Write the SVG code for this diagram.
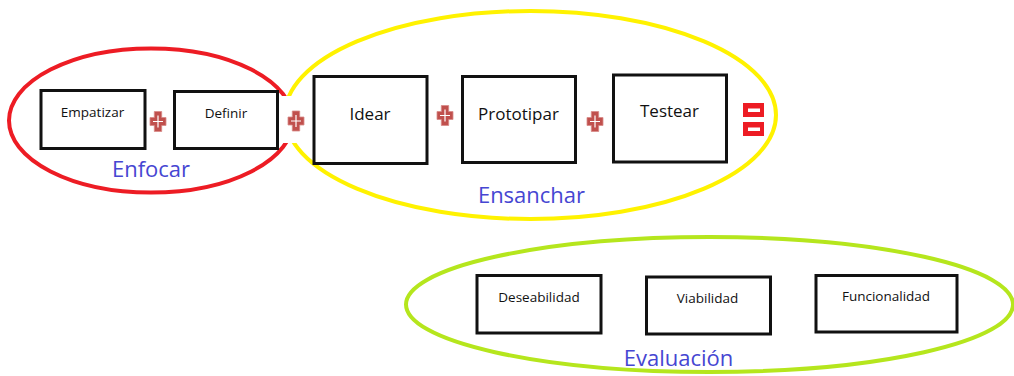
<svg xmlns="http://www.w3.org/2000/svg" width="1014" height="376" viewBox="0 0 1014 376">
  <style>
    .box { fill: #ffffff; stroke: #111111; stroke-width: 3; }
    .sm { font-family: "Open Sans", "Liberation Sans", sans-serif; font-size: 13.5px; fill: #111111; text-anchor: middle; }
    .md { font-family: "Open Sans", "Liberation Sans", sans-serif; font-size: 17px; fill: #111111; text-anchor: middle; }
    .grp { font-family: "Open Sans", "Liberation Sans", sans-serif; font-size: 22px; fill: #4646d2; text-anchor: middle; }
    .ring { fill: none; stroke-width: 4; }
  </style>
  <defs>
    <g id="plus">
      <path d="M -3.7 -10 H 3.7 V -4 H 8 V 4 H 3.7 V 10 H -3.7 V 4 H -8 V -4 H -3.7 Z" fill="#c0504d" stroke="#d88a88" stroke-width="0.8"/>
      <path d="M 0 -6 V 6 M -5 0 H 5" stroke="#ffffff" stroke-width="1.2" fill="none"/>
    </g>
  </defs>
  <rect width="1014" height="376" fill="#ffffff"/>

  <g id="groups">
    <ellipse id="enfocar-ring" class="ring" cx="151" cy="120.5" rx="142" ry="72" stroke="#ed1c24"/>
    <ellipse id="ensanchar-ring" class="ring" cx="530.5" cy="115" rx="245.5" ry="104" stroke="#fff200"/>
    <rect x="280.5" y="96" width="26" height="47" fill="#ffffff"/>
    <ellipse id="evaluacion-ring" class="ring" cx="709.5" cy="304.5" rx="303.5" ry="67.5" stroke="#b5e61d"/>
  </g>

  <g id="empatizar">
    <rect class="box" x="41" y="90.5" width="104" height="58"/>
    <text class="sm" x="92.5" y="117">Empatizar</text>
  </g>
  <g id="definir">
    <rect class="box" x="174.5" y="91.5" width="103" height="57"/>
    <text class="sm" x="226" y="118">Definir</text>
  </g>
  <g id="idear">
    <rect class="box" x="314" y="76.5" width="113" height="87"/>
    <text class="md" x="370" y="120">Idear</text>
  </g>
  <g id="prototipar">
    <rect class="box" x="462.5" y="76.5" width="113" height="86"/>
    <text class="md" x="518.5" y="119.5">Prototipar</text>
  </g>
  <g id="testear">
    <rect class="box" x="613.5" y="75" width="113" height="87"/>
    <text class="md" x="669.5" y="117">Testear</text>
  </g>

  <g id="operators">
    <use href="#plus" x="158" y="121.5"/>
    <use href="#plus" x="296" y="121"/>
    <use href="#plus" x="445" y="115.5"/>
    <use href="#plus" x="595" y="121.5"/>
    <g id="equals">
      <rect x="743" y="103" width="21" height="14" fill="#ed1c24"/>
      <rect x="748" y="108.5" width="12" height="3.5" fill="#ffffff"/>
      <rect x="743" y="122" width="21" height="14" fill="#ed1c24"/>
      <rect x="748" y="127.5" width="12" height="3.5" fill="#ffffff"/>
    </g>
  </g>

  <g id="labels">
    <text class="grp" x="151" y="177">Enfocar</text>
    <text class="grp" x="531.5" y="203">Ensanchar</text>
    <text class="grp" x="678.5" y="366">Evaluación</text>
  </g>

  <g id="deseabilidad">
    <rect class="box" x="477" y="275.5" width="124" height="57.5"/>
    <text class="sm" x="539" y="302">Deseabilidad</text>
  </g>
  <g id="viabilidad">
    <rect class="box" x="646.5" y="277" width="124" height="57"/>
    <text class="sm" x="707.5" y="302.5">Viabilidad</text>
  </g>
  <g id="funcionalidad">
    <rect class="box" x="816" y="275.5" width="141" height="56.5"/>
    <text class="sm" x="886" y="301">Funcionalidad</text>
  </g>

  <g id="connectors"></g>
</svg>
